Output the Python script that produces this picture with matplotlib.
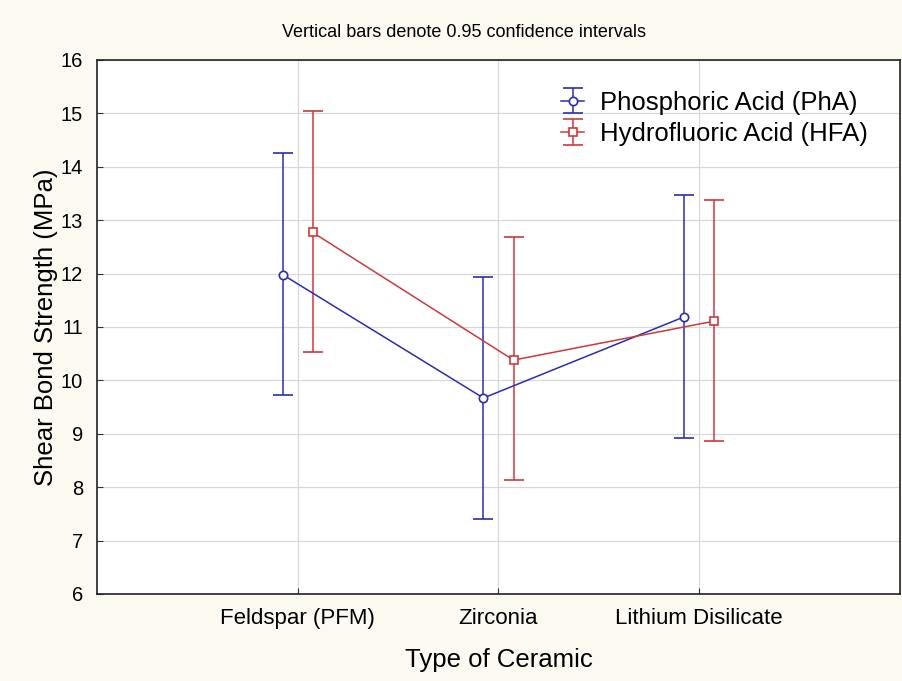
import numpy as np
import matplotlib.pyplot as plt

# Data
categories = ['Feldspar (PFM)', 'Zirconia', 'Lithium Disilicate']

pha_mean = [11.98, 9.67, 11.19]
pha_low = [9.72, 7.41, 8.93]
pha_high = [14.25, 11.94, 13.47]

hfa_mean = [12.77, 10.38, 11.11]
hfa_low = [10.54, 8.14, 8.87]
hfa_high = [15.05, 12.68, 13.38]

plt.rcParams['font.family'] = ['Liberation Sans', 'DejaVu Sans']

bg = '#fcf9f0'
blue = '#2a2db0'
red = '#cc3a3c'

fig = plt.figure(figsize=(9.02, 6.81), dpi=100, facecolor=bg)
ax = fig.add_axes([0.1075, 0.1278, 0.8903, 0.7841])
ax.set_facecolor('white')

x = np.arange(1, len(categories) + 1)
off = 0.075

def draw(xs, mean, low, high, color, marker, label):
    mean = np.array(mean)
    yerr = [mean - np.array(low), np.array(high) - mean]
    ax.errorbar(xs, mean, yerr=yerr, color=color, ecolor=color, lw=1.1,
                elinewidth=1.1, capsize=7, capthick=1.1, marker=marker,
                ms=6, mfc='white', mec=color, mew=1.2, label=label, zorder=3)

draw(x - off, pha_mean, pha_low, pha_high, blue, 'o', 'Phosphoric Acid (PhA)')
draw(x + off, hfa_mean, hfa_low, hfa_high, red, 's', 'Hydrofluoric Acid (HFA)')

ax.set_xlim(0, 4)
ax.set_ylim(6, 16)
ax.set_xticks(x)
ax.set_xticklabels(categories, fontsize=16)
ax.set_yticks(range(6, 17))
ax.tick_params(axis='both', direction='in', length=4, color='#333333')
ax.tick_params(axis='y', labelsize=14.5, pad=10)
ax.tick_params(axis='x', pad=10)
ax.grid(True, color='#d8d8d8', lw=0.9)
ax.set_axisbelow(True)
for s in ax.spines.values():
    s.set_color('#222222')
    s.set_linewidth(1.2)

ax.set_ylabel('Shear Bond Strength (MPa)', fontsize=18.5, labelpad=2)
ax.set_xlabel('Type of Ceramic', fontsize=18.5, labelpad=14)
fig.text(0.514, 0.953, 'Vertical bars denote 0.95 confidence intervals',
         ha='center', va='center', fontsize=13)

leg = ax.legend(loc='upper right', bbox_to_anchor=(0.9725, 0.962),
                borderaxespad=0, frameon=False, fontsize=18.5,
                handlelength=0.9, handletextpad=0.6, labelspacing=0.28)

fig.savefig('out.png', dpi=100, facecolor=bg)
